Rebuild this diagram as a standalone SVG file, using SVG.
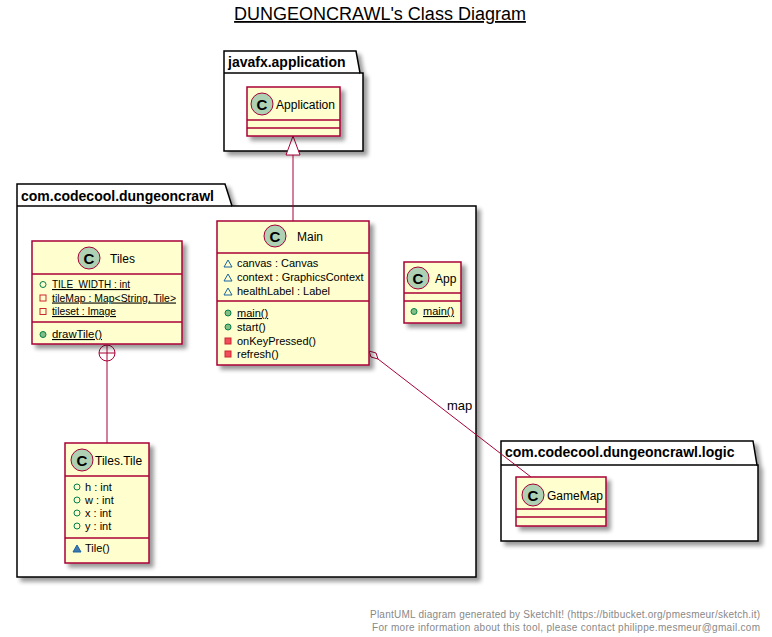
<svg xmlns="http://www.w3.org/2000/svg" width="772" height="637" viewBox="0 0 772 637">
<style>
text{font-family:"Liberation Sans",Arial,sans-serif;fill:#000}
.title{font-size:18px;text-decoration:underline}
.pkg{fill:#fff;stroke:#000;stroke-width:1.5}
.pkgt{font-size:14px;font-weight:bold}
.cls{fill:#FEFECE;stroke:#A80036;stroke-width:1.5}
.sep{stroke:#A80036;stroke-width:1.5}
.ci{fill:#ADD1B2;stroke:#A80036;stroke-width:1}
.cl{font-size:15px;font-weight:bold;text-anchor:middle}
.cn{font-size:12px}
.m{font-size:11px}
.u{text-decoration:underline}
.pf{fill:none;stroke:#038048;stroke-width:1}
.pm{fill:#84BE84;stroke:#038048;stroke-width:1}
.rf{fill:none;stroke:#C82930;stroke-width:1}
.rm{fill:#F24D5C;stroke:#C82930;stroke-width:1}
.kf{fill:none;stroke:#1963A0;stroke-width:1}
.km{fill:#4177AF;stroke:#1963A0;stroke-width:1}
.edge{stroke:#A80036;stroke-width:1;fill:none}
.foot{font-size:10px;fill:#888}
</style>
<defs>
<filter id="sh" x="-10%" y="-10%" width="130%" height="130%">
<feGaussianBlur in="SourceAlpha" stdDeviation="2"/>
<feOffset dx="4" dy="4" result="b"/>
<feComponentTransfer><feFuncA type="linear" slope="0.4"/></feComponentTransfer>
<feMerge><feMergeNode/><feMergeNode in="SourceGraphic"/></feMerge>
</filter>
</defs>
<rect width="772" height="637" fill="#fff"/>
<text class="title" x="380" y="20" text-anchor="middle">DUNGEONCRAWL's Class Diagram</text>

<g id="pkg-javafx">
<path class="pkg" filter="url(#sh)" d="M224,51 L356,51 L360,73 L363,73 L363,151 L224,151 Z"/>
<line x1="224" y1="73" x2="360" y2="73" stroke="#000" stroke-width="1.5"/>
<text class="pkgt" x="228" y="67">javafx.application</text>
</g>
<g id="pkg-dungeoncrawl">
<path class="pkg" filter="url(#sh)" d="M17,184 L225,184 L232,206 L476,206 L476,577 L17,577 Z"/>
<line x1="17" y1="206" x2="232" y2="206" stroke="#000" stroke-width="1.5"/>
<text class="pkgt" x="21" y="201">com.codecool.dungeoncrawl</text>
</g>
<g id="pkg-logic">
<path class="pkg" filter="url(#sh)" d="M501,441 L753,441 L757,465 L758,465 L758,541 L501,541 Z"/>
<line x1="501" y1="465" x2="757" y2="465" stroke="#000" stroke-width="1.5"/>
<text class="pkgt" x="505" y="457">com.codecool.dungeoncrawl.logic</text>
</g>

<g id="connectors">
<line class="edge" x1="293" y1="155" x2="293" y2="221"/>
<polygon points="293,136 286,155 300,155" fill="#fff" stroke="#A80036" stroke-width="1"/>
<line class="edge" x1="107" y1="361" x2="107" y2="443"/>
<circle cx="107" cy="353" r="8" fill="#fff" stroke="#A80036" stroke-width="1"/>
<line class="edge" x1="99" y1="353" x2="115" y2="353"/>
<line class="edge" x1="107" y1="345" x2="107" y2="361"/>
<line class="edge" x1="378" y1="359" x2="531" y2="477"/>
<polygon points="369,351 376,353 378,359 371,357" fill="#fff" stroke="#A80036" stroke-width="1"/>
<text class="cn" x="447" y="410" style="font-size:13px">map</text>
</g>

<g id="Application">
<rect class="cls" filter="url(#sh)" x="247" y="87" width="93" height="49"/>
<line class="sep" x1="247" y1="120" x2="340" y2="120"/>
<line class="sep" x1="247" y1="128" x2="340" y2="128"/>
<circle class="ci" cx="262" cy="104" r="11"/>
<text class="cl" x="262" y="109.5">C</text>
<text class="cn" x="276" y="109" textLength="59" lengthAdjust="spacingAndGlyphs">Application</text>
</g>

<g id="Tiles">
<rect class="cls" filter="url(#sh)" x="32" y="241" width="150" height="103"/>
<line class="sep" x1="32" y1="274" x2="182" y2="274"/>
<line class="sep" x1="32" y1="322" x2="182" y2="322"/>
<circle class="ci" cx="89" cy="258" r="11"/>
<text class="cl" x="89" y="263.5">C</text>
<text class="cn" x="110" y="263">Tiles</text>
<circle class="pf" cx="43" cy="284.5" r="3"/>
<text class="m u" x="52" y="288" textLength="78" lengthAdjust="spacingAndGlyphs">TILE_WIDTH : int</text>
<rect class="rf" x="40" y="295" width="6" height="6"/>
<text class="m u" x="52" y="301.5" textLength="124" lengthAdjust="spacingAndGlyphs">tileMap : Map&lt;String, Tile&gt;</text>
<rect class="rf" x="40" y="308.5" width="6" height="6"/>
<text class="m u" x="52" y="315" textLength="64" lengthAdjust="spacingAndGlyphs">tileset : Image</text>
<circle class="pm" cx="43" cy="334.5" r="3"/>
<text class="m u" x="52" y="338" textLength="50" lengthAdjust="spacingAndGlyphs">drawTile()</text>
</g>

<g id="Main">
<rect class="cls" filter="url(#sh)" x="217" y="221" width="152" height="144"/>
<line class="sep" x1="217" y1="253" x2="369" y2="253"/>
<line class="sep" x1="217" y1="301" x2="369" y2="301"/>
<circle class="ci" cx="275" cy="236" r="11"/>
<text class="cl" x="275" y="241.5">C</text>
<text class="cn" x="297" y="241">Main</text>
<polygon class="kf" points="224,267 232,267 228,260"/>
<text class="m" x="237" y="267">canvas : Canvas</text>
<polygon class="kf" points="224,281 232,281 228,274"/>
<text class="m" x="237" y="281">context : GraphicsContext</text>
<polygon class="kf" points="224,295 232,295 228,288"/>
<text class="m" x="237" y="295">healthLabel : Label</text>
<circle class="pm" cx="228" cy="313" r="3"/>
<text class="m u" x="237" y="317">main()</text>
<circle class="pm" cx="228" cy="327" r="3"/>
<text class="m" x="237" y="331">start()</text>
<rect class="rm" x="225" y="338" width="6" height="6"/>
<text class="m" x="237" y="345">onKeyPressed()</text>
<rect class="rm" x="225" y="351" width="6" height="6"/>
<text class="m" x="237" y="358">refresh()</text>
</g>

<g id="App">
<rect class="cls" filter="url(#sh)" x="404" y="262" width="57" height="61"/>
<line class="sep" x1="404" y1="293" x2="461" y2="293"/>
<line class="sep" x1="404" y1="301" x2="461" y2="301"/>
<circle class="ci" cx="418" cy="278" r="11"/>
<text class="cl" x="418" y="283.5">C</text>
<text class="cn" x="435" y="283">App</text>
<circle class="pm" cx="414" cy="311.5" r="3"/>
<text class="m u" x="423" y="315">main()</text>
</g>

<g id="Tiles.Tile">
<rect class="cls" filter="url(#sh)" x="65" y="443" width="84" height="120"/>
<line class="sep" x1="65" y1="476" x2="149" y2="476"/>
<line class="sep" x1="65" y1="538" x2="149" y2="538"/>
<circle class="ci" cx="82" cy="460" r="11"/>
<text class="cl" x="82" y="465.5">C</text>
<text class="cn" x="95" y="465">Tiles.Tile</text>
<circle class="pf" cx="77" cy="487" r="3"/>
<text class="m" x="85" y="491">h : int</text>
<circle class="pf" cx="77" cy="500" r="3"/>
<text class="m" x="85" y="504">w : int</text>
<circle class="pf" cx="77" cy="513" r="3"/>
<text class="m" x="85" y="517">x : int</text>
<circle class="pf" cx="77" cy="526" r="3"/>
<text class="m" x="85" y="530">y : int</text>
<polygon class="km" points="73,552 81,552 77,545"/>
<text class="m" x="85" y="552">Tile()</text>
</g>

<g id="GameMap">
<rect class="cls" filter="url(#sh)" x="516" y="477" width="90" height="49"/>
<line class="sep" x1="516" y1="509" x2="606" y2="509"/>
<line class="sep" x1="516" y1="517" x2="606" y2="517"/>
<circle class="ci" cx="533" cy="495" r="11"/>
<text class="cl" x="533" y="500.5">C</text>
<text class="cn" x="547" y="500">GameMap</text>
</g>

<text class="foot" x="370" y="618" textLength="390" lengthAdjust="spacing">PlantUML diagram generated by SketchIt! (https://bitbucket.org/pmesmeur/sketch.it)</text>
<text class="foot" x="372" y="631" textLength="388" lengthAdjust="spacing">For more information about this tool, please contact philippe.mesmeur@gmail.com</text>
</svg>
